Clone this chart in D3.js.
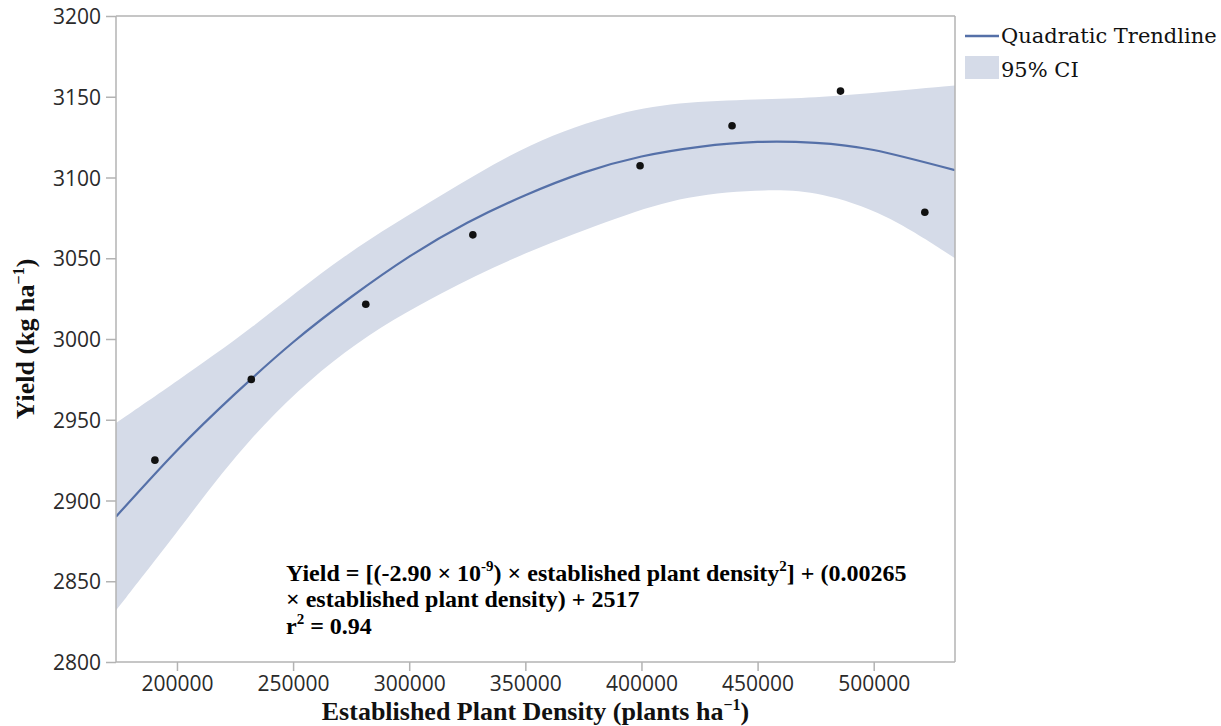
<!DOCTYPE html>
<html>
<head>
<meta charset="utf-8">
<script src="https://cdn.jsdelivr.net/npm/d3@7"></script>
<style>
  html, body { margin: 0; padding: 0; background: #fff; }
  svg { display: block; }
</style>
</head>
<body>
<svg id="chart" width="1221" height="726"></svg>
<script>
// ---- data ----
const densities = [190500, 232000, 281300, 327400, 399400, 439000, 485700, 522000];
const yields    = [2925, 2975, 3021.5, 3064.5, 3107.3, 3132, 3153.5, 3078.5];

const trendX = [173750, 200000, 225000, 250000, 275000, 300000, 325000, 350000, 375000, 400000, 425000, 450000, 475000, 500000, 535000];
const trendY = [2890, 2931, 2966, 2998, 3026, 3051, 3072, 3089, 3103, 3113, 3119, 3122, 3121.5, 3117, 3104.5];

const ciX     = [173750, 200000, 231000, 272000, 315000, 352000, 391000, 419000, 455000, 477000, 505000, 535000];
const ciUpper = [2948, 2974, 3005, 3053, 3090, 3122, 3141, 3147, 3148.5, 3149.6, 3153, 3157];
const ciLower = [2832, 2880, 2940, 2995, 3030, 3055, 3076, 3089, 3093, 3091, 3078, 3050];

const xTicks = [200000, 250000, 300000, 350000, 400000, 450000, 500000];
const yTicks = [2800, 2850, 2900, 2950, 3000, 3050, 3100, 3150, 3200];

// ---- layout ----
const L = 116, R = 955, T = 16, B = 662;
const svg = d3.select("#chart");

const x = d3.scaleLinear().domain([173750, 535000]).range([L, R]);
const y = d3.scaleLinear().domain([2800, 3200]).range([B, T]);

const axisColor = "#b3b3b3";
const tickFont = "'Open Sans', 'DejaVu Sans', sans-serif";
const serif = "'Liberation Serif', 'Times New Roman', serif";

// clip to plot area
svg.append("clipPath").attr("id", "plotclip")
  .append("rect").attr("x", L).attr("y", T).attr("width", R - L).attr("height", B - T);
const plot = svg.append("g").attr("clip-path", "url(#plotclip)");

// CI band
const band = ciX.map((v, i) => ({x: v, lo: ciLower[i], hi: ciUpper[i]}));
plot.append("path")
  .datum(band)
  .attr("fill", "#d5dbe8")
  .attr("d", d3.area().x(d => x(d.x)).y0(d => y(d.lo)).y1(d => y(d.hi)).curve(d3.curveBasis));

// trendline
plot.append("path")
  .datum(trendX.map((v, i) => ({x: v, y: trendY[i]})))
  .attr("fill", "none")
  .attr("stroke", "#5570a8")
  .attr("stroke-width", 2.2)
  .attr("d", d3.line().x(d => x(d.x)).y(d => y(d.y)).curve(d3.curveNatural));

// points
svg.append("g").selectAll("circle")
  .data(densities.map((v, i) => ({x: v, y: yields[i]})))
  .join("circle")
  .attr("cx", d => x(d.x))
  .attr("cy", d => y(d.y))
  .attr("r", 3.8)
  .attr("fill", "#111");

// frame (top, right)
svg.append("line").attr("x1", L).attr("x2", R).attr("y1", T).attr("y2", T)
  .attr("stroke", axisColor).attr("stroke-width", 1.5);
svg.append("line").attr("x1", R).attr("x2", R).attr("y1", T).attr("y2", B)
  .attr("stroke", axisColor).attr("stroke-width", 1.5);

// axes
const xAxis = svg.append("g")
  .attr("transform", `translate(0,${B})`)
  .call(d3.axisBottom(x).tickValues(xTicks).tickSize(9).tickPadding(4).tickFormat(d3.format("d")));
const yAxis = svg.append("g")
  .attr("transform", `translate(${L},0)`)
  .call(d3.axisLeft(y).tickValues(yTicks).tickSize(10).tickPadding(5).tickFormat(d3.format("d")));

[xAxis, yAxis].forEach(a => {
  a.select(".domain").attr("stroke", axisColor).attr("stroke-width", 1.5);
  a.selectAll(".tick line").attr("stroke", axisColor).attr("stroke-width", 1.5);
  a.selectAll(".tick text")
    .attr("fill", "#2a2a2a")
    .style("font-family", tickFont)
    .style("font-size", "21px");
});
xAxis.select(".domain").attr("d", `M${L},0H${R}`);
yAxis.select(".domain").attr("d", `M0,${T}V${B}`);
xAxis.selectAll(".tick text").attr("dy", "0.75em");
yAxis.selectAll(".tick text").attr("dy", "0.36em");

// axis titles
const xt = svg.append("text")
  .attr("x", (L + R) / 2).attr("y", 720)
  .attr("text-anchor", "middle")
  .style("font-family", serif).style("font-weight", "bold").style("font-size", "26px")
  .attr("fill", "#111");
xt.append("tspan").text("Established Plant Density (plants ha");
xt.append("tspan").attr("dy", -10).style("font-size", "16px").text("−1");
xt.append("tspan").attr("dy", 10).text(")");

const yt = svg.append("text")
  .attr("transform", `translate(34,${(T + B) / 2}) rotate(-90)`)
  .attr("text-anchor", "middle")
  .style("font-family", serif).style("font-weight", "bold").style("font-size", "26px")
  .attr("fill", "#111");
yt.append("tspan").text("Yield (kg ha");
yt.append("tspan").attr("dy", -10).style("font-size", "16px").text("−1");
yt.append("tspan").attr("dy", 10).text(")");

// equation annotation
const ann = svg.append("g")
  .style("font-family", serif).style("font-weight", "bold").style("font-size", "24px")
  .attr("fill", "#000");
const l1 = ann.append("text").attr("x", 286).attr("y", 581);
l1.append("tspan").text("Yield = [(-2.90 × 10");
l1.append("tspan").attr("dy", -10).style("font-size", "15px").text("-9");
l1.append("tspan").attr("dy", 10).text(") × established plant density");
l1.append("tspan").attr("dy", -10).style("font-size", "15px").text("2");
l1.append("tspan").attr("dy", 10).text("] + (0.00265");
ann.append("text").attr("x", 286).attr("y", 607).text("× established plant density) + 2517");
const l3 = ann.append("text").attr("x", 286).attr("y", 634);
l3.append("tspan").text("r");
l3.append("tspan").attr("dy", -10).style("font-size", "15px").text("2");
l3.append("tspan").attr("dy", 10).text(" = 0.94");

// legend
const lg = svg.append("g").style("font-family", "'DejaVu Serif', serif").style("font-size", "21px").attr("fill", "#111");
lg.append("line").attr("x1", 965).attr("x2", 999).attr("y1", 36).attr("y2", 36)
  .attr("stroke", "#5570a8").attr("stroke-width", 2.5);
lg.append("text").attr("x", 1001).attr("y", 43).text("Quadratic Trendline");
lg.append("rect").attr("x", 965).attr("y", 56).attr("width", 34).attr("height", 23).attr("fill", "#d5dbe8");
lg.append("text").attr("x", 1001).attr("y", 77).text("95% CI");
</script>
</body>
</html>
